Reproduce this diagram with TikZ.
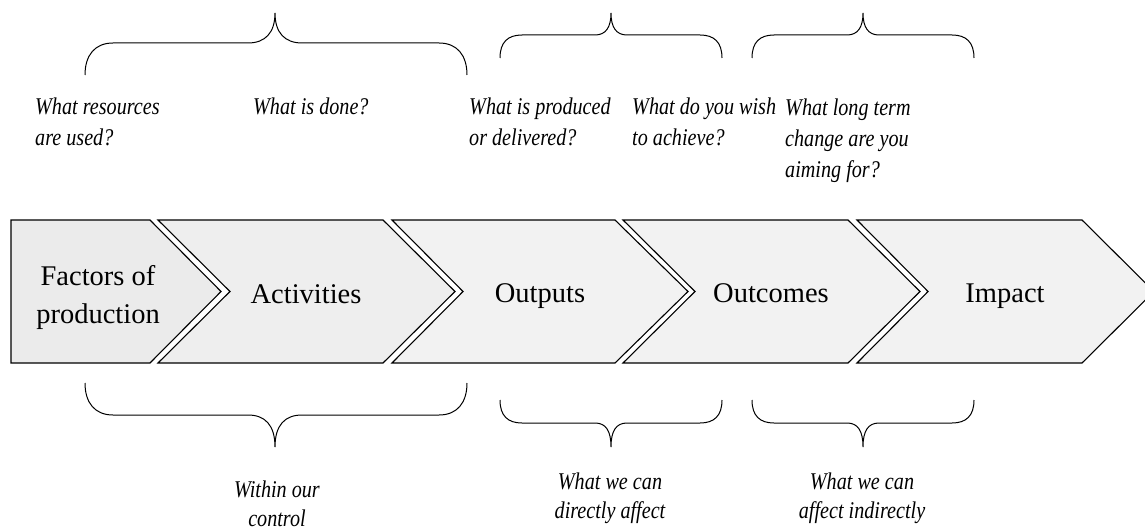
\documentclass[tikz,border=0pt]{standalone}
\usepackage{fontspec}
\setmainfont{Liberation Serif}
\newfontfamily\qfont{Liberation Serif}[FakeStretch=0.84]
\usepackage{xcolor}
\definecolor{fillA}{HTML}{EBEBEB}
\definecolor{fillB}{HTML}{EEEEEE}
\definecolor{fillC}{HTML}{F2F2F2}
\begin{document}
\begin{tikzpicture}[x=1pt,y=-1pt,
  chev/.style={draw=black,line width=1.1pt,line join=miter},
  brc/.style={draw=black,line width=1pt},
  lbl/.style={font=\fontsize{28.5}{38}\selectfont,align=center,inner sep=0pt},
  qst/.style={font=\qfont\fontsize{24}{31}\selectfont\itshape,align=left,inner sep=0pt,anchor=base west},
  bot/.style={font=\qfont\fontsize{24}{29}\selectfont\itshape,align=center,inner sep=0pt,anchor=base}]
\useasboundingbox (0,0) rectangle (1145,532);
\clip (0,0) rectangle (1145,532);
% chevrons
\path[chev,fill=fillA] (11,220) -- (150,220) -- (221,291.5) -- (150,363) -- (11,363) -- cycle;
\path[chev,fill=fillB] (158,220) -- (383,220) -- (455,291.5) -- (383,363) -- (158,363) -- (230,291.5) -- cycle;
\path[chev,fill=fillC] (392,220) -- (615,220) -- (688,291.5) -- (615,363) -- (392,363) -- (463,291.5) -- cycle;
\path[chev,fill=fillC] (623,220) -- (848,220) -- (920,291.5) -- (848,363) -- (623,363) -- (695,291.5) -- cycle;
\path[chev,fill=fillC] (857,220) -- (1082,220) -- (1154,291.5) -- (1082,363) -- (857,363) -- (928,291.5) -- cycle;
% labels (base = last line)
\node[lbl,anchor=base] (fac) at (98,323) {Factors of\\production};
\node[lbl,anchor=base] (act) at (306,303) {Activities};
\node[lbl,anchor=base] (out) at (540,302) {Outputs};
\node[lbl,anchor=base] (occ) at (771,302) {Outcomes};
\node[lbl,anchor=base] (imp) at (1005,302) {Impact};
% top braces
\path[brc] (85,75) .. controls (85,55) and (95,43) .. (113,43) -- (248,43) .. controls (265,43) and (275,33) .. (275,13) .. controls (275,33) and (285,43) .. (302,43) -- (439,43) .. controls (457,43) and (467,55) .. (467,75);
\path[brc] (500,58) .. controls (500,42) and (508,35) .. (522,35) -- (595,35) .. controls (606,35) and (611,27) .. (611,13) .. controls (611,27) and (616,35) .. (627,35) -- (700,35) .. controls (714,35) and (722,42) .. (722,58);
\path[brc] (752,58) .. controls (752,42) and (760,35) .. (774,35) -- (847,35) .. controls (858,35) and (863,27) .. (863,13) .. controls (863,27) and (868,35) .. (879,35) -- (952,35) .. controls (966,35) and (974,42) .. (974,58);
% bottom braces
\path[brc] (85,383) .. controls (85,403) and (95,415) .. (113,415) -- (248,415) .. controls (265,415) and (275,425) .. (275,447) .. controls (275,425) and (285,415) .. (302,415) -- (439,415) .. controls (457,415) and (467,403) .. (467,383);
\path[brc] (500,400) .. controls (500,416) and (508,423) .. (522,423) -- (595,423) .. controls (606,423) and (611,431) .. (611,447) .. controls (611,431) and (616,423) .. (627,423) -- (700,423) .. controls (714,423) and (722,416) .. (722,400);
\path[brc] (752,400) .. controls (752,416) and (760,423) .. (774,423) -- (847,423) .. controls (858,423) and (863,431) .. (863,447) .. controls (863,431) and (868,423) .. (879,423) -- (952,423) .. controls (966,423) and (974,416) .. (974,400);
% questions (base = last line)
\node[qst] (q1) at (35,146) {What resources\\are used?};
\node[qst] (q2) at (253,115) {What is done?};
\node[qst] (q3) at (469,146) {What is produced\\or delivered?};
\node[qst] (q4) at (632,146) {What do you wish\\to achieve?};
\node[qst] (q5) at (785,177) {What long term\\change are you\\aiming for?};
% bottom texts
\node[bot] (b1) at (277,526) {Within our\\control};
\node[bot] (b2) at (610,518) {What we can\\directly affect};
\node[bot] (b3) at (862,518) {What we can\\affect indirectly};
\end{tikzpicture}
\end{document}
